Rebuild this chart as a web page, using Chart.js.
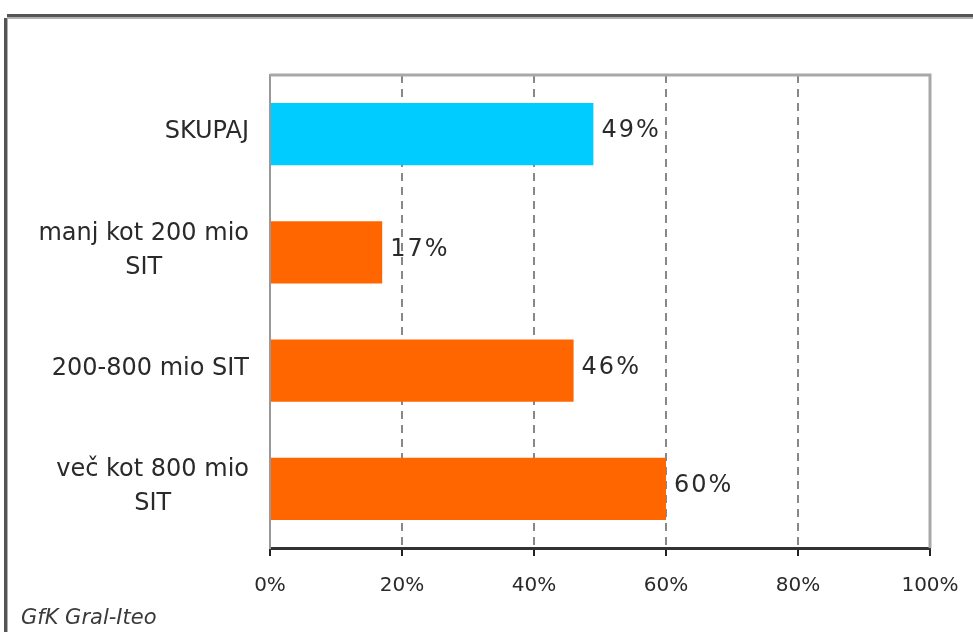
<!DOCTYPE html>
<html>
<head>
<meta charset="utf-8">
<script src="https://cdn.jsdelivr.net/npm/chart.js@4/dist/chart.umd.min.js"></script>
<style>
html,body{margin:0;padding:0;background:#fff;}
#wrap{position:relative;width:973px;height:632px;}
</style>
</head>
<body>
<div id="wrap"><canvas id="c" width="973" height="632"></canvas></div>
<script>
const categories = [["SKUPAJ"], ["manj kot 200 mio", "SIT"], ["200-800 mio SIT"], ["več kot 800 mio", "SIT"]];
const values = [49, 17, 46, 60];
const barColors = ["#00CCFF", "#FF6600", "#FF6600", "#FF6600"];
const tickValues = [0, 20, 40, 60, 80, 100];
const sourceText = "GfK Gral-Iteo";

const FONT = "DejaVu Sans";

const decor = {
  id: 'decor',
  beforeDraw(chart) {
    const ctx = chart.ctx;
    ctx.save();
    ctx.fillStyle = '#fff';
    ctx.fillRect(0, 0, chart.width, chart.height);
    // outer frame
    ctx.fillStyle = '#555';
    ctx.fillRect(7, 14, chart.width - 7, 3);
    ctx.fillRect(4, 18, 3, chart.height - 18);
    ctx.fillStyle = '#b0b0b0';
    ctx.fillRect(7, 17, chart.width - 7, 2);
    ctx.fillRect(7, 19, 1, chart.height - 19);
    ctx.restore();
  },
  afterDraw(chart) {
    const ctx = chart.ctx;
    const a = chart.chartArea;
    const y = chart.scales.y;
    ctx.save();
    // plot area top and right borders
    ctx.strokeStyle = '#a8a8a8';
    ctx.lineWidth = 3;
    ctx.beginPath();
    ctx.moveTo(a.left, a.top);
    ctx.lineTo(a.right, a.top);
    ctx.lineTo(a.right, a.bottom);
    ctx.stroke();
    // category labels: block right-aligned, lines centered
    ctx.font = '24px "' + FONT + '"';
    ctx.fillStyle = '#2a2a2a';
    ctx.textBaseline = 'middle';
    ctx.textAlign = 'center';
    const lh = 34;
    const rightEdge = a.left - 21;
    categories.forEach((lines, i) => {
      const cy = y.getPixelForTick(i);
      const w = Math.max(...lines.map(l => ctx.measureText(l).width));
      const cx = rightEdge - w / 2;
      const y0 = cy - (lines.length - 1) * lh / 2;
      lines.forEach((l, j) => ctx.fillText(l, cx, y0 + j * lh - 2));
    });
    // value labels
    ctx.font = '24px "' + FONT + '"';
    ctx.letterSpacing = '2px';
    ctx.textAlign = 'left';
    const meta = chart.getDatasetMeta(0);
    meta.data.forEach((bar, i) => {
      ctx.fillText(values[i] + '%', bar.x + 8, bar.y - 3);
    });
    ctx.letterSpacing = '0px';
    // source
    ctx.font = 'italic 21px "' + FONT + '"';
    ctx.fillStyle = '#3a3a3a';
    ctx.textBaseline = 'alphabetic';
    ctx.fillText(sourceText, 21, 624);
    ctx.restore();
  }
};

new Chart(document.getElementById('c'), {
  type: 'bar',
  data: {
    labels: categories,
    datasets: [{
      data: values,
      backgroundColor: barColors,
      borderWidth: 0,
      barPercentage: 0.525,
      categoryPercentage: 1
    }]
  },
  options: {
    indexAxis: 'y',
    responsive: false,
    animation: false,
    events: [],
    layout: { padding: { top: 75, right: 43, bottom: 0, left: 0 } },
    plugins: { legend: { display: false }, tooltip: { enabled: false } },
    scales: {
      x: {
        min: 0, max: 100,
        afterBuildTicks(s) { s.ticks = tickValues.map(v => ({ value: v })); },
        afterFit(s) { s.height = 84; s.paddingLeft = 0; s.paddingRight = 0; },
        ticks: {
          font: { family: FONT, size: 20 },
          color: '#2a2a2a',
          padding: 18,
          maxRotation: 0,
          callback: v => v + '%'
        },
        grid: {
          color: c => (c.index === 0 || c.index === tickValues.length - 1) ? 'rgba(0,0,0,0)' : '#888',
          lineWidth: 2,
          tickLength: 8,
          tickColor: '#222',
          tickWidth: 2,
          tickBorderDash: []
        },
        border: { display: true, color: '#333', width: 3, dash: [8, 6] }
      },
      y: {
        afterFit(s) { s.width = 270; },
        ticks: { display: false },
        grid: { display: false, drawTicks: false },
        border: { display: true, color: '#999', width: 2 }
      }
    }
  },
  plugins: [decor]
});
</script>
</body>
</html>
